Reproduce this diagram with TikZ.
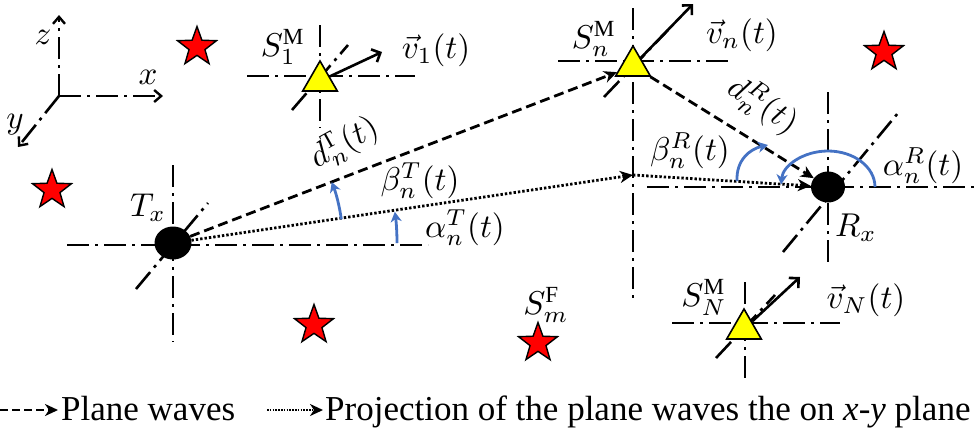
\documentclass[tikz,border=0pt]{standalone}
\usepackage{fontspec}
\setmainfont{Liberation Serif}
\usetikzlibrary{arrows.meta,positioning,shapes.geometric,calc}
\definecolor{angblue}{HTML}{4472C4}
\definecolor{satyellow}{HTML}{FFFF00}
\definecolor{scatred}{HTML}{FF0000}
\tikzset{
  axisln/.style={line width=2.6pt,dash pattern=on 22pt off 6pt on 3pt off 6pt},
  frameax/.style={axisln,-{Straight Barb[length=7pt,width=12pt,line width=2.4pt]}},
  wave/.style={line width=2.8pt,dash pattern=on 10pt off 5pt,-{Stealth[length=13pt,width=12pt,inset=4pt]}},
  proj/.style={line width=2.8pt,dash pattern=on 2.4pt off 2pt,-{Stealth[length=13pt,width=12pt,inset=4pt]}},
  vel/.style={line width=2.6pt,-{Straight Barb[length=7pt,width=14pt,line width=2.6pt]}},
  angl/.style={draw=angblue,line width=2.8pt,-{Stealth[length=10pt,width=11pt,inset=3pt]}},
  sat/.style={regular polygon,regular polygon sides=3,draw=black,fill=satyellow,line width=1.6pt,minimum size=40pt,inner sep=0pt},
  term/.style={ellipse,fill=black,inner sep=0pt},
  scat/.style={star,star points=5,star point ratio=2.45,fill=scatred,draw=black,line width=1.4pt,minimum size=41pt,inner sep=0pt},
  lbl/.style={font=\fontsize{10}{12}\selectfont,scale=3.3,inner sep=0.3pt},
  legtxt/.style={font=\fontsize{35}{40}\selectfont,inner sep=0pt,anchor=base west},
}

\begin{document}
\begin{tikzpicture}[x=1pt,y=-1pt]
  \useasboundingbox (0,0) rectangle (977,440);

  % reference frame
  \coordinate (orig) at (59,96);
  \draw[frameax] (orig) -- (59,15);
  \draw[frameax] (orig) -- (163,96);
  \draw[frameax] (orig) -- (18,147);
  \node[lbl] (zlab) at (43,37) {$z$};
  \node[lbl] (xlab) at (148,77) {$x$};
  \node[lbl] (ylab) at (15,125) {$y$};

  % local axes of Tx, Rx and the moving scatterers
  \draw[axisln] (67,245) -- (428,245);  \draw[axisln] (173,165) -- (173,342);  \draw[axisln] (136,289) -- (208,203);
  \draw[axisln] (647,187) -- (977,187); \draw[axisln] (828,92) -- (828,267);   \draw[axisln] (783,252) -- (898,113);
  \draw[axisln] (247,76) -- (415,76);   \draw[axisln] (320,25) -- (320,128);   \draw[axisln] (292,110) -- (348,45);
  \draw[axisln] (558,61) -- (728,61);   \draw[axisln] (633,8) -- (633,300);    \draw[axisln] (604,97) -- (668,30);
  \draw[axisln] (672,323) -- (840,323); \draw[axisln] (745,282) -- (745,382);  \draw[axisln] (716,358) -- (775,295);

  % fixed scatterers
  \node[scat] (sf1) at (197,47) {};
  \node[scat] (sf2) at (884,52) {};
  \node[scat] (sf3) at (52,190) {};
  \node[scat] (sf4) at (314,325) {};
  \node[scat] (sfm) at (538,343) {};
  \node[lbl] (sfmlab) at (546,305) {$S_m^{\mathrm{F}}$};

  % terminals
  \node[term,minimum width=37pt,minimum height=33pt] (Tx) at (173,243) {};
  \node[term,minimum width=34pt,minimum height=31pt] (Rx) at (828,187) {};
  \node[lbl] (txlab) at (148,208) {$T_x$};
  \node[lbl] (rxlab) at (856,228) {$R_x$};

  % moving scatterers
  \node[sat] (S1) at (320,81) {};
  \node[sat] (Sn) at (633,66) {};
  \node[sat] (SN) at (744,329) {};
  \coordinate (v1end) at (382,52);
  \coordinate (vnend) at (693,4);
  \coordinate (vNend) at (800,277);
  \draw[vel] (S1) -- (v1end);
  \draw[vel] (Sn) -- (vnend);
  \draw[vel] (SN) -- (vNend);
  \node[lbl] (s1lab) at (283,47) {$S_1^{\mathrm{M}}$};
  \node[lbl] (snlab) at (594,39) {$S_n^{\mathrm{M}}$};
  \node[lbl] (sNlab) at (704,297) {$S_N^{\mathrm{M}}$};
  \node[lbl] (v1lab) at (436,50) {$\vec{v}_1(t)$};
  \node[lbl] (vnlab) at (742,35) {$\vec{v}_n(t)$};
  \node[lbl] (vNlab) at (866,300) {$\vec{v}_N(t)$};

  % plane waves and their projections
  \coordinate (snproj) at (633,175);
  \draw[wave] (Tx) -- (Sn);
  \draw[wave] (Sn) -- (Rx);
  \draw[proj] (Tx) -- (snproj);
  \draw[proj] (snproj) -- (Rx);
  \node[lbl,rotate=29] (dtlab) at (344,143) {$d_n^{\mathrm{T}}(t)$};
  \node[lbl,rotate=-33] (drlab) at (763,105) {$d_n^{R}(t)$};

  % angles
  \draw[angl] ($(Tx.center)+(-8:170)$) arc[start angle=-8,end angle=-21,radius=170];
  \draw[angl] ($(Tx.center)+(224,0)$) arc[start angle=0,end angle=-8,radius=224];
  \draw[angl] (737,181) .. controls (736,160) and (750,149) .. (768,145);
  \draw[angl] ($(Rx.center)+(47,0)$) arc[start angle=0,end angle=-176,x radius=47,y radius=36];
  \node[lbl] (btlab) at (420,181) {$\beta_n^{T}(t)$};
  \node[lbl] (atlab) at (465,228) {$\alpha_n^{T}(t)$};
  \node[lbl] (brlab) at (690,151) {$\beta_n^{R}(t)$};
  \node[lbl] (arlab) at (923,166) {$\alpha_n^{R}(t)$};

  % legend
  \coordinate (lga) at (0,410);   \coordinate (lgb) at (58,410);
  \coordinate (lgc) at (267,410); \coordinate (lgd) at (323,410);
  \draw[wave,line width=2.4pt,dash pattern=on 8pt off 4pt] (lga) -- (lgb);
  \draw[proj,line width=2.4pt,dash pattern=on 1.6pt off 1.2pt] (lgc) -- (lgd);
  \node[legtxt] (lgtxt1) at (61,420) {Plane waves};
  \node[legtxt] (lgtxt2) at (325,420) {Projection of the plane waves the on \textit{x}-\textit{y} plane};
\end{tikzpicture}
\end{document}
